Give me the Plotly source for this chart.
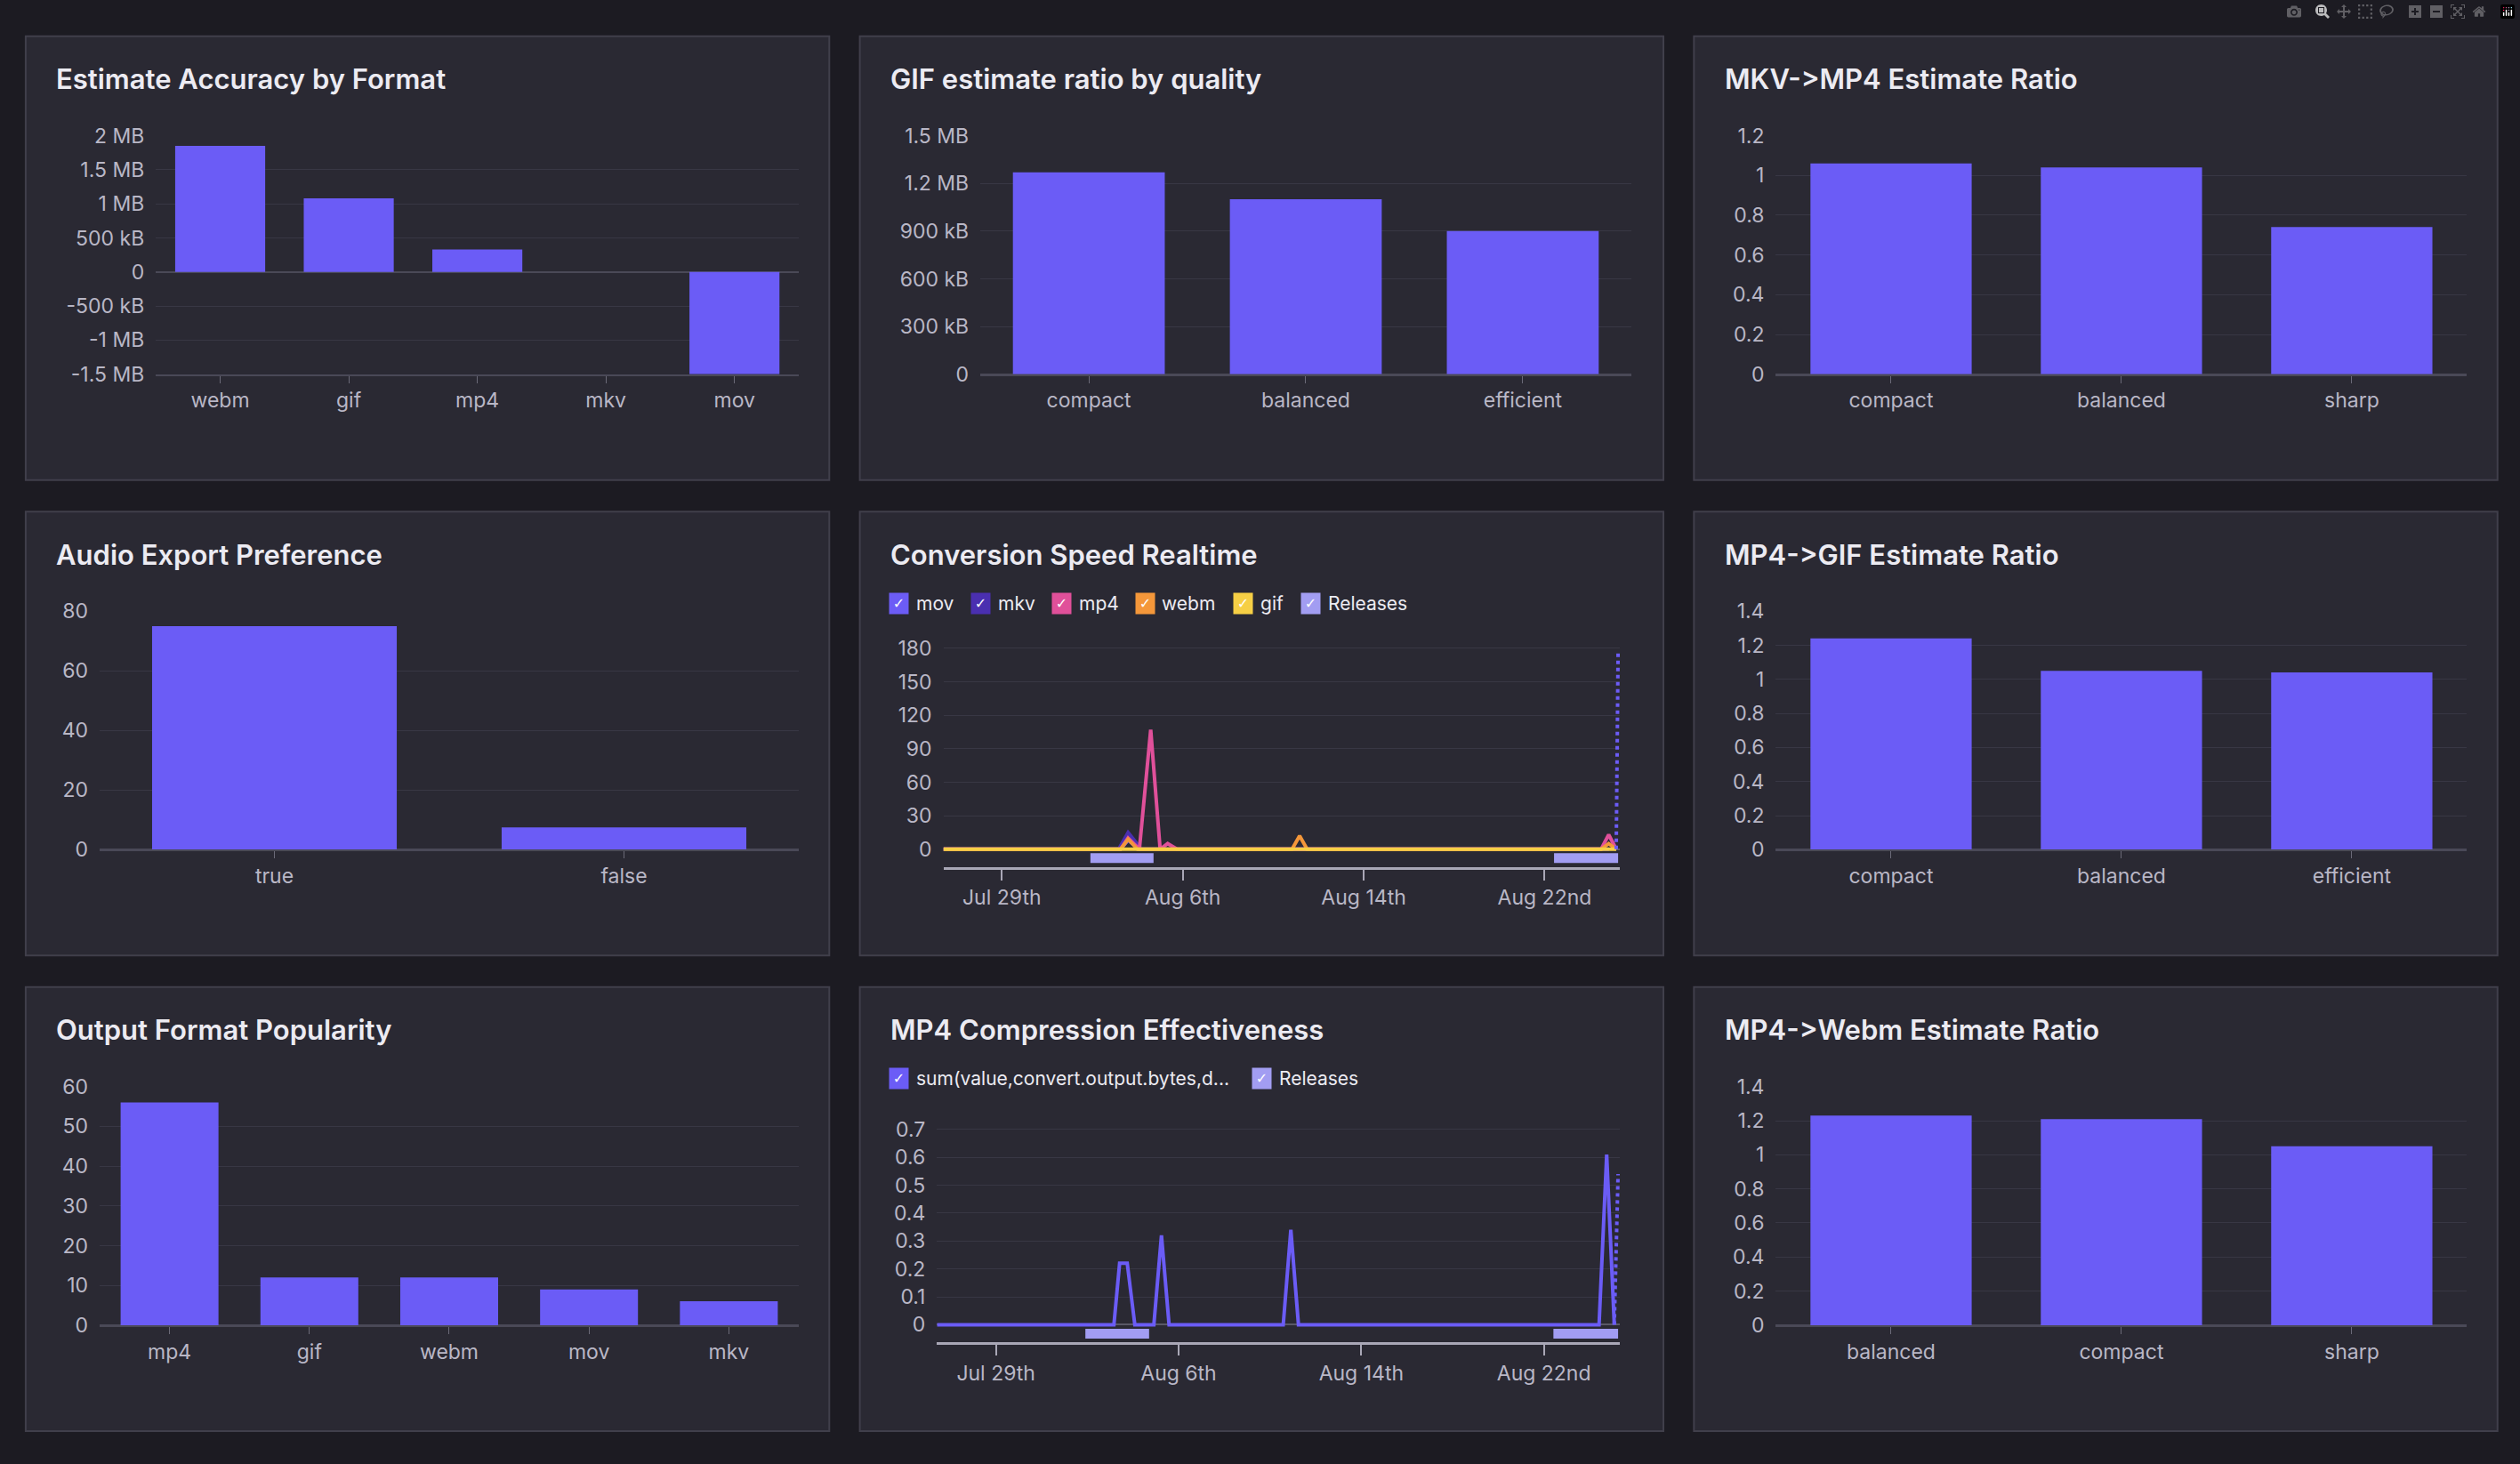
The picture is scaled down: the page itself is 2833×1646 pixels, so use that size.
import plotly.graph_objects as go

W, H = 2833, 1646
SX, SY = 1568.0, 911.0
BG = "#1c1b22"; PANEL = "#2a2933"; BORDER = "#403f4b"
BAR = "#6b5cf6"; TXT = "#ecebf2"; TICK = "#b9b7c6"; GRID = "#383744"
FONT = "Inter"

# ---- data ----
acc_cats = ["webm", "gif", "mp4", "mkv", "mov"]
acc_vals = [1.85e6, 1.08e6, 0.33e6, 0, -1.5e6]
acc_tickvals = [2e6, 1.5e6, 1e6, 5e5, 0, -5e5, -1e6, -1.5e6]
acc_ticktext = ["2 MB", "1.5 MB", "1 MB", "500 kB", "0", "-500 kB", "-1 MB", "-1.5 MB"]

gif_cats = ["compact", "balanced", "efficient"]
gif_vals = [1.27e6, 1.10e6, 0.90e6]
gif_tickvals = [0, 3e5, 6e5, 9e5, 1.2e6, 1.5e6]
gif_ticktext = ["0", "300 kB", "600 kB", "900 kB", "1.2 MB", "1.5 MB"]

mkv_cats = ["compact", "balanced", "sharp"]
mkv_vals = [1.06, 1.04, 0.74]

audio_cats = ["true", "false"]
audio_vals = [75, 7.5]

mp4gif_cats = ["compact", "balanced", "efficient"]
mp4gif_vals = [1.24, 1.05, 1.04]

pop_cats = ["mp4", "gif", "webm", "mov", "mkv"]
pop_vals = [56, 12, 12, 9, 6]

webm_cats = ["balanced", "compact", "sharp"]
webm_vals = [1.23, 1.21, 1.05]

date_ticks = ["2025-07-29", "2025-08-06", "2025-08-14", "2025-08-22"]
date_ticktext = ["Jul 29th", "Aug 6th", "Aug 14th", "Aug 22nd"]
x_start, x_end = "2025-07-26 10:00", "2025-08-25 08:00"

speed_names = ["mov", "mkv", "mp4", "webm", "gif"]
speed_colors = ["#6c5cf6", "#4a2fb0", "#e0509a", "#f4973a", "#f6cf45"]
speed_t = {
    "mov": ["2025-07-26 10:00", "2025-08-03 06:00", "2025-08-03 14:00", "2025-08-04 02:00", "2025-08-24 20:00"],
    "mkv": ["2025-07-26 10:00", "2025-08-03 04:00", "2025-08-03 14:00", "2025-08-04 04:00", "2025-08-24 20:00"],
    "mp4": ["2025-07-26 10:00", "2025-08-03 06:00", "2025-08-03 14:00", "2025-08-04 02:00", "2025-08-04 14:00",
            "2025-08-05 00:00", "2025-08-05 08:00", "2025-08-05 18:00", "2025-08-24 12:00", "2025-08-24 20:00", "2025-08-25 04:00"],
    "webm": ["2025-07-26 10:00", "2025-08-03 06:00", "2025-08-03 14:00", "2025-08-04 00:00", "2025-08-10 20:00",
             "2025-08-11 04:00", "2025-08-11 12:00", "2025-08-24 12:00", "2025-08-24 20:00", "2025-08-25 04:00"],
    "gif": ["2025-07-26 10:00", "2025-08-25 04:00"],
}
speed_v = {
    "mov": [0, 0, 8, 0, 0],
    "mkv": [0, 0, 15, 0, 0],
    "mp4": [0, 0, 10, 0, 107, 0, 5, 0, 0, 13, 0],
    "webm": [0, 0, 9, 0, 0, 12, 0, 0, 5, 0],
    "gif": [0, 0],
}
speed_pending_t = ["2025-08-25 04:00", "2025-08-25 06:00"]
speed_pending_v = [0, 178]

release_starts = ["2025-08-01 22:00", "2025-08-22 10:00"]
release_ends = ["2025-08-04 17:00", "2025-08-25 06:00"]
REL = "#a29df2"

comp_name = "sum(value,convert.output.bytes,d..."
comp_t = ["2025-07-26 10:00", "2025-08-03 04:00", "2025-08-03 10:00", "2025-08-03 18:00", "2025-08-04 02:00",
          "2025-08-04 22:00", "2025-08-05 06:00", "2025-08-05 14:00", "2025-08-10 14:00", "2025-08-10 22:00",
          "2025-08-11 06:00", "2025-08-24 10:00", "2025-08-24 18:00", "2025-08-25 02:00"]
comp_v = [0, 0, 0.22, 0.22, 0, 0, 0.32, 0, 0, 0.34, 0, 0, 0.61, 0]
comp_pending_t = ["2025-08-25 02:00", "2025-08-25 06:00"]
comp_pending_v = [0, 0.54]

ZW = "\u200c"  # break the "->" arrow ligature

# ---- layout helpers ----
fig = go.Figure()
shapes, annotations = [], []

def px(x): return x / SX
def py(y): return 1 - y / SY

panels_x = [(16, 516), (535, 1035), (1054, 1554)]
panels_y = [(15, 296), (316, 597), (617, 898)]
titles = [["Estimate Accuracy by Format", "GIF estimate ratio by quality", f"MKV-{ZW}>MP4 Estimate Ratio"],
          ["Audio Export Preference", "Conversion Speed Realtime", f"MP4-{ZW}>GIF Estimate Ratio"],
          ["Output Format Popularity", "MP4 Compression Effectiveness", f"MP4-{ZW}>Webm Estimate Ratio"]]
for r, (y0, y1) in enumerate(panels_y):
    for c, (x0, x1) in enumerate(panels_x):
        shapes.append(dict(type="rect", xref="paper", yref="paper", x0=px(x0), x1=px(x1), y0=py(y1), y1=py(y0),
                           fillcolor=PANEL, line=dict(color=BORDER, width=2), layer="below"))
        annotations.append(dict(xref="paper", yref="paper", x=px(x0 + 18), y=py(y0 + 27), xanchor="left", yanchor="middle",
                                text=titles[r][c], showarrow=False,
                                font=dict(size=31, color=TXT, family=FONT, weight=600)))

axcount = [0]
def add_axes(x0, x1, y0, y1):
    axcount[0] += 1
    n = axcount[0]
    xa = "xaxis" if n == 1 else f"xaxis{n}"
    ya = "yaxis" if n == 1 else f"yaxis{n}"
    xr = "x" if n == 1 else f"x{n}"
    yr = "y" if n == 1 else f"y{n}"
    return n, xa, ya, xr, yr, [px(x0), px(x1)], [py(y1), py(y0)]

tickfont = dict(size=23, color=TICK, family=FONT)
layout_axes = {}

def bar_panel(cats, vals, box, yrange, tickvals=None, ticktext=None, dtick=None):
    n, xa, ya, xr, yr, dx, dy = add_axes(*box)
    fig.add_trace(go.Bar(x=cats, y=vals, marker=dict(color=BAR, line=dict(width=0)), xaxis=xr, yaxis=yr, showlegend=False))
    layout_axes[xa] = dict(domain=dx, anchor=yr, showgrid=False, showline=True, linecolor="#4a4957", linewidth=2,
                           ticks="outside", ticklen=8, tickcolor="#6b6a78", tickfont=tickfont, zeroline=False)
    yd = dict(domain=dy, anchor=xr, range=yrange, gridcolor=GRID, gridwidth=1, tickfont=tickfont,
              zeroline=True, zerolinecolor="#4a4957", zerolinewidth=2, showline=False, ticks="", ticklabelstandoff=12)
    if tickvals is not None:
        yd.update(tickvals=tickvals, ticktext=ticktext)
    if dtick is not None:
        yd.update(dtick=dtick, tick0=0)
    layout_axes[ya] = yd

bar_panel(acc_cats, acc_vals, (97, 497, 78, 229), [-1.5e6, 2e6], acc_tickvals, acc_ticktext)
bar_panel(gif_cats, gif_vals, (610, 1015, 78, 229), [0, 1.5e6], gif_tickvals, gif_ticktext)
bar_panel(mkv_cats, mkv_vals, (1105, 1535, 78, 229), [0, 1.2], dtick=0.2)
bar_panel(audio_cats, audio_vals, (62, 497, 379, 530), [0, 80], dtick=20)
bar_panel(mp4gif_cats, mp4gif_vals, (1105, 1535, 379, 530), [0, 1.4], dtick=0.2)
bar_panel(pop_cats, pop_vals, (62, 497, 680, 831), [0, 60], dtick=10)
bar_panel(webm_cats, webm_vals, (1105, 1535, 680, 831), [0, 1.4], dtick=0.2)

def legend(items, xs, y):
    for (name, color), x in zip(items, xs):
        annotations.append(dict(xref="paper", yref="paper", x=px(x), y=py(y), xanchor="left", yanchor="middle",
                                text="<b>✓</b>", showarrow=False, bgcolor=color, borderpad=2, width=17,
                                font=dict(size=16, color="white", family="DejaVu Sans")))
        annotations.append(dict(xref="paper", yref="paper", x=px(x + 16), y=py(y), xanchor="left", yanchor="middle",
                                text=name, showarrow=False, font=dict(size=21, color=TXT, family=FONT)))

def ts_panel(box, yrange, dtick, series, pending, pend_color, rel_y):
    n, xa, ya, xr, yr, dx, dy = add_axes(*box)
    for rs, re in zip(release_starts, release_ends):
        fig.add_trace(go.Scatter(x=[rs, re], y=[rel_y, rel_y], mode="lines", line=dict(color=REL, width=11),
                                 xaxis=xr, yaxis=yr, showlegend=False, hoverinfo="skip"))
    for t, v, color in series:
        fig.add_trace(go.Scatter(x=t, y=v, mode="lines", line=dict(color=color, width=4), xaxis=xr, yaxis=yr, showlegend=False))
    fig.add_trace(go.Scatter(x=pending[0], y=pending[1], mode="lines", line=dict(color=pend_color, width=4, dash="dot"),
                             xaxis=xr, yaxis=yr, showlegend=False))
    layout_axes[xa] = dict(domain=dx, anchor=yr, type="date", range=[x_start, x_end], tickvals=date_ticks,
                           ticktext=date_ticktext, showgrid=False, showline=True, linecolor="#a9a7b6", linewidth=3,
                           ticks="outside", ticklen=12, tickcolor="#a9a7b6", tickwidth=2, tickfont=tickfont, zeroline=False)
    layout_axes[ya] = dict(domain=dy, anchor=xr, range=yrange, dtick=dtick, tick0=0, gridcolor=GRID, tickfont=tickfont,
                           zeroline=True, zerolinecolor="#5a5966", zerolinewidth=2, ticklabelstandoff=12)

ts_panel((587, 1008, 399, 541), [-16, 185], 30,
         [(speed_t[nm], speed_v[nm], col) for nm, col in zip(speed_names, speed_colors)],
         (speed_pending_t, speed_pending_v), speed_colors[0], -8)
legend(list(zip(speed_names, speed_colors)) + [("Releases", REL)], [553, 604, 654, 706, 767, 809], 374)

ts_panel((583, 1008, 700, 842), [-0.064, 0.74], 0.1, [(comp_t, comp_v, BAR)],
         (comp_pending_t, comp_pending_v), BAR, -0.032)
legend([(comp_name, BAR), ("Releases", REL)], [553, 779], 675)

fig.update_layout(width=W, height=H, margin=dict(l=0, r=0, t=0, b=0), paper_bgcolor=BG, plot_bgcolor="rgba(0,0,0,0)",
                  shapes=shapes, annotations=annotations, bargap=0.3, showlegend=False,
                  font=dict(family=FONT, color=TXT), **layout_axes)
fig.write_html("out.html",
               post_script="document.body.style.margin='0';document.body.style.overflow='hidden';document.body.style.background='#1c1b22';")
